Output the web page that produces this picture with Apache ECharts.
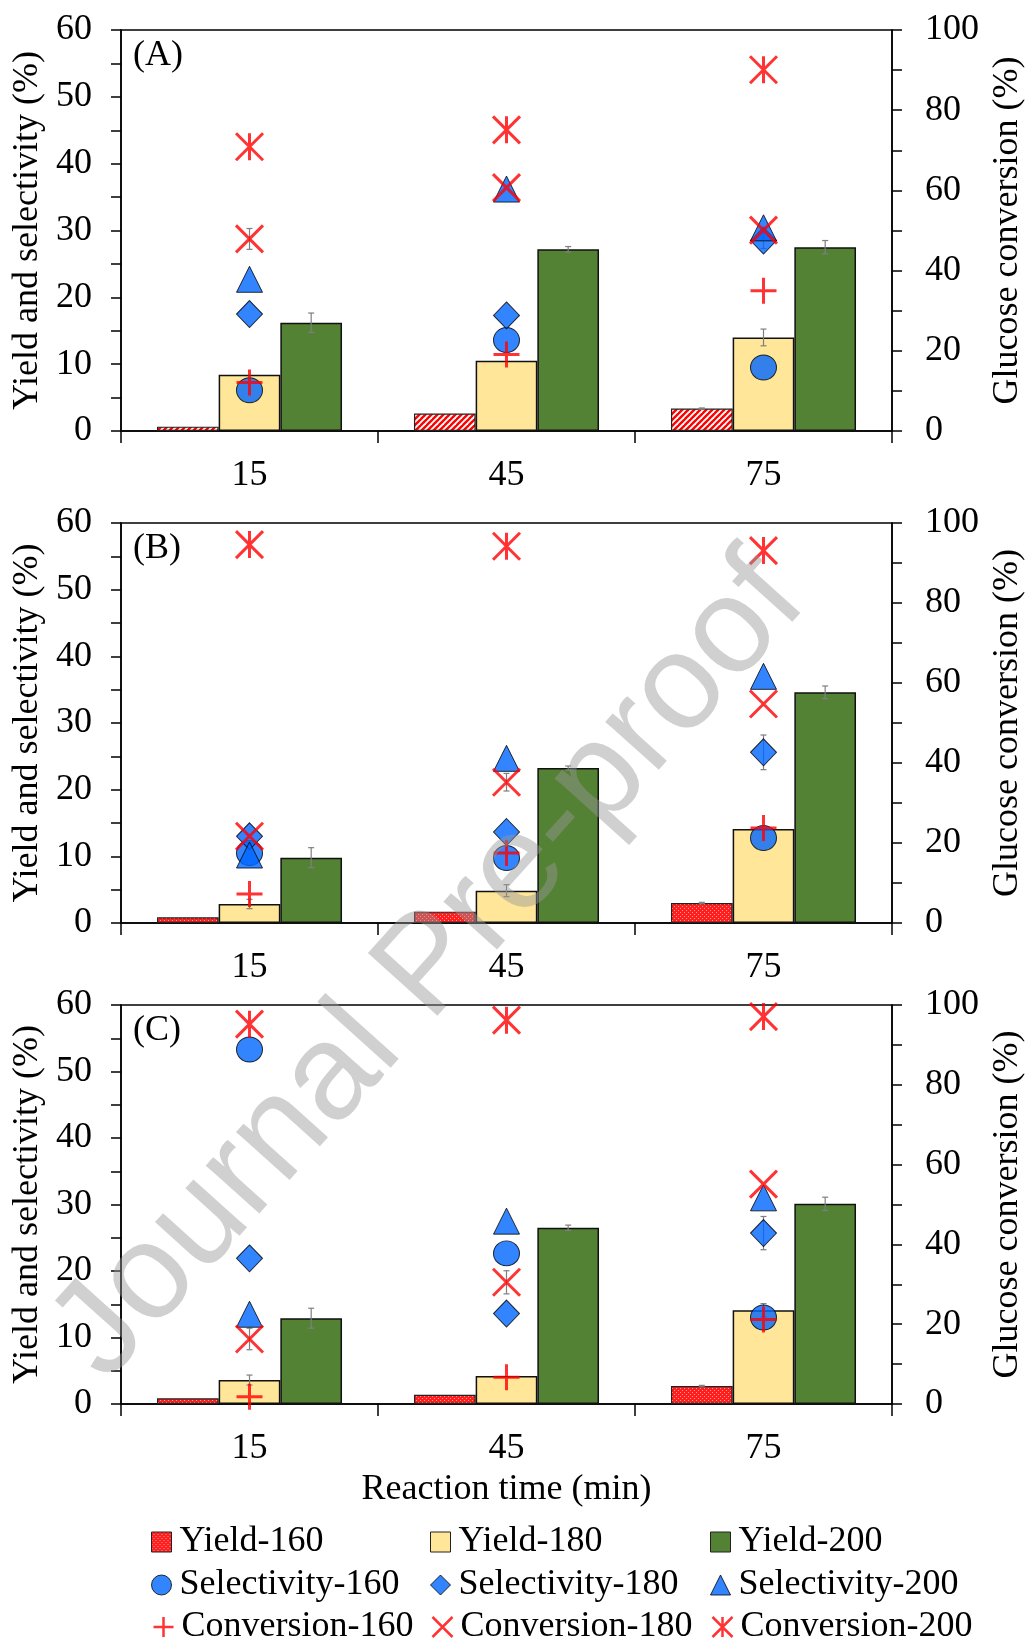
<!DOCTYPE html>
<html><head><meta charset="utf-8">
<script src="https://cdn.jsdelivr.net/npm/echarts@6/dist/echarts.min.js"></script>
<style>html,body{margin:0;padding:0;background:#fff}#c{width:1025px;height:1642px}</style>
</head><body><div id="c"></div>
<script>
// ---------- data ----------
const categories = ['15', '45', '75'];
const leftTicks = [0, 10, 20, 30, 40, 50, 60];
const rightTicks = [0, 20, 40, 60, 80, 100];
const panelLabels = ['(A)', '(B)', '(C)'];

// Panel A
const yield160_A = [0.65, 2.6, 3.35];
const yield180_A = [8.4, 10.5, 14.0];
const yield200_A = [16.2, 27.2, 27.5];
const sel160_A = [6.1, 13.6, 9.5];
const sel180_A = [17.5, 17.3, 28.5];
const sel200_A = [22.7, 36.2, 30.4];
const conv160_A = [12.1, 19.1, 35.0];
const conv180_A = [47.9, 60.7, 50.1];
const conv200_A = [70.9, 75.1, 90.1];
// Panel B
const yield160_B = [0.85, 1.7, 3.0];
const yield180_B = [2.85, 4.85, 14.1];
const yield200_B = [9.8, 23.25, 34.6];
const sel160_B = [10.5, 9.75, 12.75];
const sel180_B = [13.0, 13.65, 25.6];
const sel200_B = [10.2, 24.7, 37.0];
const conv160_B = [7.25, 17.5, 23.75];
const conv180_B = [21.7, 35.2, 54.75];
const conv200_B = [94.6, 94.2, 93.1];
// Panel C
const yield160_C = [0.85, 1.4, 2.7];
const yield180_C = [3.6, 4.2, 14.1];
const yield200_C = [12.9, 26.5, 30.1];
const sel160_C = [53.3, 22.65, 13.0];
const sel180_C = [21.9, 13.6, 25.7];
const sel200_C = [13.5, 27.5, 31.0];
const conv160_C = [1.8, 6.7, 21.2];
const conv180_C = [16.3, 30.5, 55.1];
const conv200_C = [95.2, 96.2, 97.1];

// error bars (0 = none)
const errYield160_A = [0, 0, 0.1];
const errYield180_A = [0, 0, 1.25];
const errYield200_A = [1.45, 0.4, 1.0];
const errSel180_A = [0, 0, 1.2];
const errConv180_A = [2.6, 0, 0];
const errYield160_B = [0, 0, 0.1];
const errYield180_B = [0.7, 0.9, 0];
const errYield200_B = [1.5, 0.3, 0.95];
const errSel180_B = [0, 0, 2.6];
const errConv180_B = [0, 2.2, 0];
const errYield160_C = [0, 0, 0.1];
const errYield180_C = [0.75, 0, 1.0];
const errYield200_C = [1.5, 0.4, 1.0];
const errSel180_C = [0, 0, 2.5];
const errConv180_C = [2.7, 2.9, 0];

// legend entries (row-major, 3 columns)
const legendNames = [
  ['Yield-160', 'Yield-180', 'Yield-200'],
  ['Selectivity-160', 'Selectivity-180', 'Selectivity-200'],
  ['Conversion-160', 'Conversion-180', 'Conversion-200']
];

// ---------- style / layout ----------
const FONT = '"Liberation Serif", "Times New Roman", serif';
const FS = 36;
const gridTops = [30, 523, 1005];
const gridHeights = [401, 400, 399];
const GRID_LEFT = 121, GRID_RIGHT = 133;
const legendColLeft = [151, 430, 710];
const legendRowCenter = [1542, 1585, 1627];
const BLUE = '#0066FF', RED = '#FF0000', YELLOW = '#FFE699', GREEN = '#548235';
const plusPath = 'path://M0,5L10,5M5,0L5,10';
const xPath = 'path://M0,0L10,10M10,0L0,10';
const starPath = 'path://M0,0L10,10M10,0L0,10M5,0L5,10';

function stripePattern() {
  const s = 6, cv = document.createElement('canvas');
  cv.width = s; cv.height = s;
  const ctx = cv.getContext('2d');
  ctx.fillStyle = '#ffffff'; ctx.fillRect(0, 0, s, s);
  ctx.strokeStyle = RED; ctx.lineWidth = 2.4;
  for (let k = 0; k <= 2; k++) {
    const c = k * s;
    ctx.beginPath(); ctx.moveTo(c + 2, -2); ctx.lineTo(c - s - 2, s + 2); ctx.stroke();
  }
  return { image: cv, repeat: 'repeat' };
}
function dotPattern() {
  const cv = document.createElement('canvas');
  cv.width = 4; cv.height = 4;
  const ctx = cv.getContext('2d');
  ctx.fillStyle = '#FF1E1E'; ctx.fillRect(0, 0, 4, 4);
  ctx.fillStyle = '#FF9C9C';
  ctx.fillRect(0, 0, 1, 1); ctx.fillRect(2, 2, 1, 1);
  return { image: cv, repeat: 'repeat' };
}
const stripes = stripePattern();
const dots = dotPattern();

const panels = [
  { y160: yield160_A, y180: yield180_A, y200: yield200_A, s160: sel160_A, s180: sel180_A, s200: sel200_A,
    c160: conv160_A, c180: conv180_A, c200: conv200_A, pat: stripes,
    eY160: errYield160_A, eY180: errYield180_A, eY200: errYield200_A, eS180: errSel180_A, eC180: errConv180_A },
  { y160: yield160_B, y180: yield180_B, y200: yield200_B, s160: sel160_B, s180: sel180_B, s200: sel200_B,
    c160: conv160_B, c180: conv180_B, c200: conv200_B, pat: dots,
    eY160: errYield160_B, eY180: errYield180_B, eY200: errYield200_B, eS180: errSel180_B, eC180: errConv180_B },
  { y160: yield160_C, y180: yield180_C, y200: yield200_C, s160: sel160_C, s180: sel180_C, s200: sel200_C,
    c160: conv160_C, c180: conv180_C, c200: conv200_C, pat: dots,
    eY160: errYield160_C, eY180: errYield180_C, eY200: errYield200_C, eS180: errSel180_C, eC180: errConv180_C }
];

const BAR_FRAC = 0.72;
function errRender(params, api) {
  const idx = api.value(0), v = api.value(1), e = api.value(2), off = api.value(3);
  const band = api.size([1, 0])[0];
  const bw = band * BAR_FRAC / 3;
  const c = api.coord([idx, v]);
  const x = c[0] + off * bw;
  const yT = api.coord([idx, v + e])[1], yB = api.coord([idx, v - e])[1];
  const cap = 3, st = { stroke: '#7f7f7f', lineWidth: 1.2 };
  return { type: 'group', children: [
    { type: 'line', shape: { x1: x, y1: yT, x2: x, y2: yB }, style: st },
    { type: 'line', shape: { x1: x - cap, y1: yT, x2: x + cap, y2: yT }, style: st },
    { type: 'line', shape: { x1: x - cap, y1: yB, x2: x + cap, y2: yB }, style: st }
  ] };
}
function errData(vals, errs, off) {
  const out = [];
  vals.forEach((v, j) => { if (errs[j] > 0) out.push([j, v, errs[j], off]); });
  return out;
}
const pts = arr => arr.map((v, j) => [j, v]);

const grids = [], xAxes = [], yAxes = [], series = [], graphics = [];
const axisLineStyle = { color: '#000', width: 1.5 };
panels.forEach((p, i) => {
  grids.push({ left: GRID_LEFT, right: GRID_RIGHT, top: gridTops[i], height: gridHeights[i],
    show: true, borderColor: '#000', borderWidth: 1.5, backgroundColor: 'transparent', outerBoundsMode: 'none' });
  xAxes.push({ type: 'category', gridIndex: i, data: categories, boundaryGap: true,
    axisLine: { show: true, onZero: false, lineStyle: axisLineStyle },
    axisTick: { show: true, alignWithLabel: false, inside: false, length: 12, interval: 0, lineStyle: axisLineStyle },
    axisLabel: { fontFamily: FONT, fontSize: FS, color: '#000', margin: 27, interval: 0 },
    splitLine: { show: false },
    name: i === 2 ? 'Reaction time (min)' : '', nameLocation: 'middle', nameGap: 68,
    nameTextStyle: { fontFamily: FONT, fontSize: FS, color: '#000' } });
  yAxes.push({ type: 'value', gridIndex: i, position: 'left', min: leftTicks[0], max: leftTicks[leftTicks.length - 1],
    interval: leftTicks[1] - leftTicks[0],
    axisLine: { show: true, lineStyle: axisLineStyle },
    axisTick: { show: true, inside: false, length: 10, lineStyle: axisLineStyle },
    minorTick: { show: true, splitNumber: 2, length: 10, lineStyle: axisLineStyle },
    splitLine: { show: false }, minorSplitLine: { show: false },
    axisLabel: { fontFamily: FONT, fontSize: FS, color: '#000', margin: 29 },
    name: 'Yield and selectivity (%)', nameLocation: 'middle', nameRotate: 90, nameGap: 72,
    nameTextStyle: { fontFamily: FONT, fontSize: FS, color: '#000' } });
  yAxes.push({ type: 'value', gridIndex: i, position: 'right', min: rightTicks[0], max: rightTicks[rightTicks.length - 1],
    interval: rightTicks[1] - rightTicks[0],
    axisLine: { show: true, lineStyle: axisLineStyle },
    axisTick: { show: true, inside: false, length: 10, lineStyle: axisLineStyle },
    minorTick: { show: true, splitNumber: 2, length: 10, lineStyle: axisLineStyle },
    splitLine: { show: false }, minorSplitLine: { show: false },
    axisLabel: { fontFamily: FONT, fontSize: FS, color: '#000', margin: 33 },
    name: 'Glucose conversion (%)', nameLocation: 'middle', nameRotate: 90, nameGap: 95,
    nameTextStyle: { fontFamily: FONT, fontSize: FS, color: '#000' } });

  const L = 2 * i, R = 2 * i + 1;
  const barBase = { type: 'bar', xAxisIndex: i, yAxisIndex: L, barGap: '0%', barCategoryGap: '28%', z: 2 };
  series.push(Object.assign({}, barBase, { name: 'Yield-160', data: p.y160,
    itemStyle: { color: p.pat, borderColor: '#222', borderWidth: 1.2 } }));
  series.push(Object.assign({}, barBase, { name: 'Yield-180', data: p.y180,
    itemStyle: { color: YELLOW, borderColor: '#111', borderWidth: 1.5 } }));
  series.push(Object.assign({}, barBase, { name: 'Yield-200', data: p.y200,
    itemStyle: { color: GREEN, borderColor: '#111', borderWidth: 1.5 } }));
  series.push({ type: 'custom', name: 'err', xAxisIndex: i, yAxisIndex: L, renderItem: errRender, z: 3,
    encode: { x: 0, y: 1 },
    data: [].concat(errData(p.y160, p.eY160, -1), errData(p.y180, p.eY180, 0), errData(p.y200, p.eY200, 1), errData(p.s180, p.eS180, 0)) });
  series.push({ type: 'custom', name: 'errR', xAxisIndex: i, yAxisIndex: R, renderItem: errRender, z: 3,
    encode: { x: 0, y: 1 }, data: errData(p.c180, p.eC180, 0) });

  const blue = { color: BLUE, borderColor: '#000', borderWidth: 1 };
  const redLine = { color: 'none', borderColor: RED, borderWidth: 3 };
  series.push({ type: 'scatter', name: 'Selectivity-160', xAxisIndex: i, yAxisIndex: L, symbol: 'circle', symbolSize: [26, 25], itemStyle: blue, z: 4, data: pts(p.s160) });
  series.push({ type: 'scatter', name: 'Selectivity-180', xAxisIndex: i, yAxisIndex: L, symbol: 'diamond', symbolSize: [26, 27], itemStyle: blue, z: 4, data: pts(p.s180) });
  series.push({ type: 'scatter', name: 'Selectivity-200', xAxisIndex: i, yAxisIndex: L, symbol: 'triangle', symbolSize: [26, 26], itemStyle: blue, z: 4, data: pts(p.s200) });
  series.push({ type: 'scatter', name: 'Conversion-160', xAxisIndex: i, yAxisIndex: R, symbol: plusPath, symbolSize: 26, itemStyle: redLine, z: 5, data: pts(p.c160) });
  series.push({ type: 'scatter', name: 'Conversion-180', xAxisIndex: i, yAxisIndex: R, symbol: xPath, symbolSize: 27, itemStyle: redLine, z: 5, data: pts(p.c180) });
  series.push({ type: 'scatter', name: 'Conversion-200', xAxisIndex: i, yAxisIndex: R, symbol: starPath, symbolSize: 27, itemStyle: redLine, z: 5, data: pts(p.c200) });

  graphics.push({ type: 'text', x: 133, y: gridTops[i] + 26, z: 10,
    style: { text: panelLabels[i], font: FS + 'px ' + FONT, fill: '#000', verticalAlign: 'middle', align: 'left' } });
});

graphics.push({ type: 'text', x: 430, y: 968, rotation: 48 * Math.PI / 180, z: 100, silent: true,
  style: { text: 'Journal Pre-proof', font: '136px "Liberation Sans", Arial, sans-serif',
    fill: 'rgba(150,150,150,0.45)', align: 'center', verticalAlign: 'middle' } });

// legend: one component per entry so the 3x3 grid aligns in columns
const blueIcon = { color: BLUE, borderColor: '#000', borderWidth: 1 };
const redIcon = { color: 'none', borderColor: RED, borderWidth: 2.5 };
const legendIcons = [
  [{ icon: 'rect', itemStyle: { color: dots, borderColor: '#222', borderWidth: 1 } },
   { icon: 'rect', itemStyle: { color: YELLOW, borderColor: '#222', borderWidth: 1 } },
   { icon: 'rect', itemStyle: { color: GREEN, borderColor: '#222', borderWidth: 1 } }],
  [{ icon: 'circle', itemStyle: blueIcon }, { icon: 'diamond', itemStyle: blueIcon }, { icon: 'triangle', itemStyle: blueIcon }],
  [{ icon: plusPath, itemStyle: redIcon }, { icon: xPath, itemStyle: redIcon }, { icon: starPath, itemStyle: redIcon }]
];
const legends = [];
legendNames.forEach((row, r) => row.forEach((name, c) => {
  legends.push({
    orient: 'horizontal', left: legendColLeft[c], top: legendRowCenter[r] - 18, padding: 0,
    itemWidth: 20, itemHeight: 20,
    textStyle: { fontFamily: FONT, fontSize: FS, color: '#000', lineHeight: 36, padding: [0, 0, 0, 3] },
    data: [Object.assign({ name: name }, legendIcons[r][c])]
  });
}));

const chart = echarts.init(document.getElementById('c'), null, { renderer: 'canvas' });
chart.setOption({
  animation: false,
  backgroundColor: '#ffffff',
  grid: grids, xAxis: xAxes, yAxis: yAxes, series: series,
  legend: legends, graphic: graphics
});
</script>
</body></html>
